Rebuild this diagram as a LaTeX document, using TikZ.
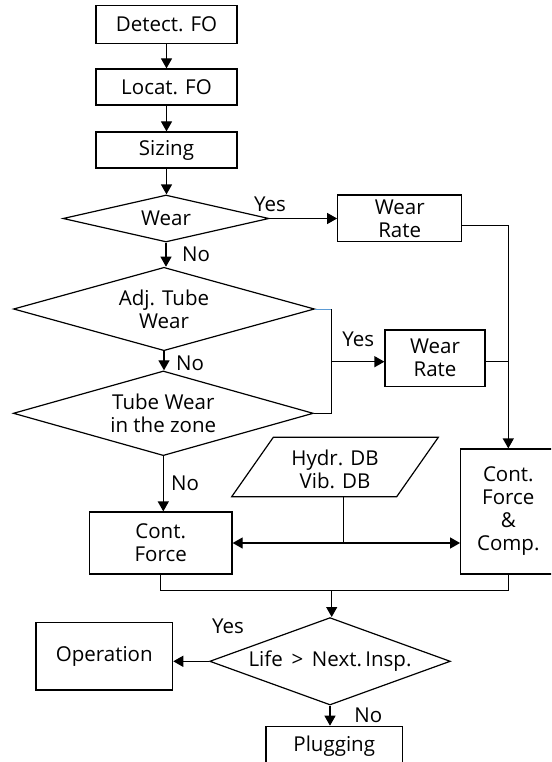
\documentclass[tikz,border=0pt]{standalone}
\usepackage{fontspec}
\setmainfont{Open Sans}
\usetikzlibrary{arrows.meta,shapes.geometric}
\definecolor{lineblue}{RGB}{91,155,213}
\begin{document}
\begin{tikzpicture}[x=1pt,y=-1pt,
  every node/.style={font=\fontsize{20.5}{23}\selectfont},
  box/.style={draw, line width=1.2pt, rectangle, inner sep=0pt, align=center},
  dia/.style={draw, line width=1.2pt, diamond, inner sep=0pt, align=center},
  ln/.style={line width=1.2pt},
  arr/.style={line width=1.2pt, -{Triangle[length=10pt,width=11pt]}},
  lbl/.style={inner sep=0pt}]
\useasboundingbox (0,0) rectangle (551,762);
\fill[white] (0,0) rectangle (551,762);
\clip (0,0) rectangle (551,762);

% boxes
\node[box, minimum width=141pt, minimum height=37.6pt] (detect) at (166.5,24.5) {Detect. FO};
\node[box, minimum width=141pt, minimum height=36pt] (locat) at (166.5,87) {Locat. FO};
\node[box, minimum width=141pt, minimum height=36pt] (sizing) at (166.5,150) {Sizing};
\node[dia, aspect=4.38, minimum width=206pt, minimum height=47pt] (wear) at (166,218.5) {Wear};
\node[box, minimum width=124pt, minimum height=46.7pt] (wr1) at (399.7,218.3) {Wear\\Rate};
\node[dia, aspect=3.61, minimum width=301pt, minimum height=83.4pt] (adj) at (164,309) {Adj. Tube\\Wear};
\node[dia, aspect=3.54, minimum width=300pt, minimum height=84.7pt] (tw) at (163.3,413.3) {Tube Wear\\in the zone};
\node[box, minimum width=100pt, minimum height=56.3pt] (wr2) at (435,358.2) {Wear\\Rate};
\node[box, minimum width=142.7pt, minimum height=62pt] (cf) at (160.7,543) {Cont.\\Force};
\node[box, minimum width=95.3pt, minimum height=125pt] (cfc) at (508.3,511.5) {Cont.\\Force\\\&\\Comp.};
\node[dia, aspect=2.75, minimum width=240.7pt, minimum height=87.4pt] (life) at (330,661.3) {Life \,>\, Next.\,Insp.};
\node[box, minimum width=136.7pt, minimum height=67.7pt] (op) at (104.3,656.2) {Operation};
\node[box, minimum width=136.3pt, minimum height=40pt] (plug) at (334.2,746.3) {Plugging};

% parallelogram (data)
\coordinate (p1) at (273.3,437.3);
\coordinate (p2) at (438.3,437.3);
\coordinate (p3) at (396.7,496.7);
\coordinate (p4) at (231.7,496.7);
\draw[ln] (p1) -- (p2) -- (p3) -- (p4) -- cycle;
\node[align=center, inner sep=0pt] (db) at (335,469) {Hydr. DB\\Vib. DB};

% junction coordinates
\coordinate (c1) at (508.3,225.3);
\coordinate (ja) at (331.7,309);
\coordinate (jt) at (331.7,413.3);
\coordinate (j2) at (331.7,361.7);
\coordinate (j3) at (508.3,361.7);
\coordinate (dbo) at (343.3,496.7);
\coordinate (dbj) at (343.3,543);
\coordinate (jb) at (331.7,590.7);

% connectors
\draw[arr] (detect) -- (locat);
\draw[arr] (locat) -- (sizing);
\draw[arr] (sizing.south) -- (sizing.south |- wear.north);
\draw[arr] (wear.east) -- (wear.east -| wr1.west);
\draw[arr] (c1 -| wr1.east) -- (c1) -- (cfc.north);
\draw[arr] (wear.south) -- (wear.south |- adj.north);
\draw[arr] (adj.south) -- (adj.south |- tw.north);
\draw[line width=1pt, lineblue] (adj.east) -- (ja);
\draw[ln] (ja) -- (jt) -- (tw.east);
\draw[arr] (j2) -- (j2 -| wr2.west);
\draw[ln] (j3 -| wr2.east) -- (j3);
\draw[arr] (tw.south) -- (tw.south |- cf.north);
\draw[ln] (dbo) -- (dbj);
\draw[arr] (dbj) -- (dbj -| cf.east);
\draw[arr] (dbj) -- (dbj -| cfc.west);
\draw[ln] (cf.south) -- (cf.south |- jb) -- (cfc.south |- jb) -- (cfc.south);
\draw[arr] (jb) -- (jb |- life.north);
\draw[arr] (life.west) -- (life.west -| op.east);
\draw[arr] (life.south) -- (life.south |- plug.north);

% labels
\node[lbl] (yes1) at (270,204) {Yes};
\node[lbl] (no1) at (196,254) {No};
\node[lbl] (yes2) at (358.3,339) {Yes};
\node[lbl] (no2) at (190,363) {No};
\node[lbl] (no3) at (185,483.3) {No};
\node[lbl] (yes3) at (228,626.3) {Yes};
\node[lbl] (no4) at (368.3,715.3) {No};
\end{tikzpicture}
\end{document}
